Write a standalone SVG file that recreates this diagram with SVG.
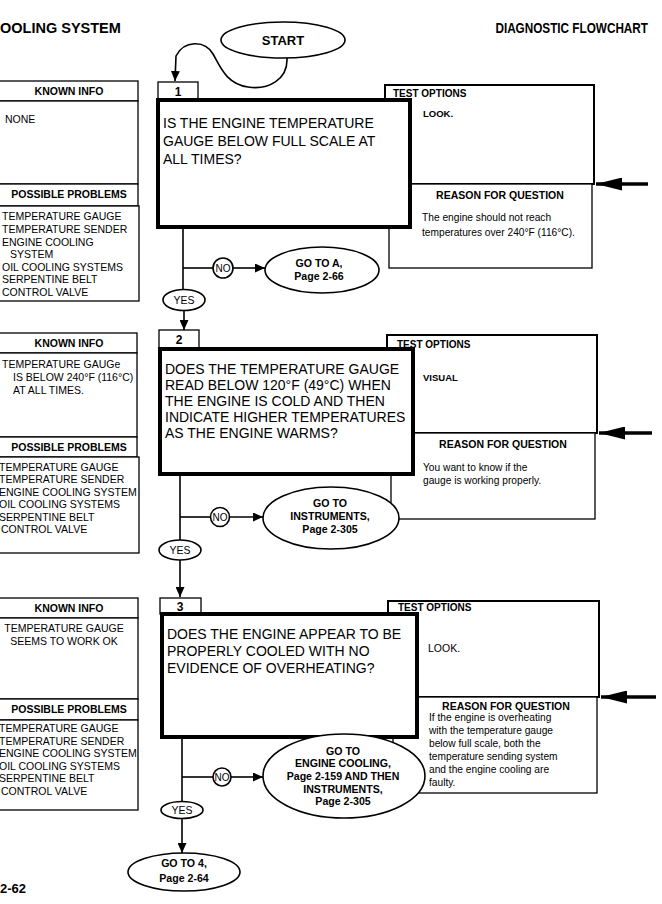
<svg xmlns="http://www.w3.org/2000/svg" width="662" height="904" viewBox="0 0 662 904">
<defs>
<style>
text{font-family:"Liberation Sans",Arial,Helvetica,sans-serif;fill:#000}
.b{font-weight:bold}
.h{font-weight:bold;font-size:10.5px;text-anchor:middle}
.li{font-size:10.5px}
.q{font-size:14px}
.to{font-weight:bold;font-size:10px}
.r{font-size:10.2px}
.e{font-weight:bold;font-size:10.6px;text-anchor:middle}
.c{text-anchor:middle}
.box{fill:#fff;stroke:#000;stroke-width:1.3}
.tbox{fill:#fff;stroke:#000;stroke-width:2}
.qbox{fill:#fff;stroke:#000;stroke-width:4}
.ln{fill:none;stroke:#000;stroke-width:1.6}
.ell{fill:#fff;stroke:#000;stroke-width:1.6}
.big{fill:none;stroke:#000;stroke-width:3.5}
</style>
<marker id="ah" markerUnits="userSpaceOnUse" markerWidth="10" markerHeight="9" refX="10" refY="4.5" orient="auto"><path d="M0,0 L10,4.5 L0,9 z" fill="#000"/></marker>
<marker id="bh" markerUnits="userSpaceOnUse" markerWidth="26" markerHeight="13" refX="26" refY="6.5" orient="auto"><path d="M0,0 L26,6.5 L0,13 z" fill="#000"/></marker>
</defs>
<rect width="662" height="904" fill="#fff"/>

<g id="titles">
<text class="b" x="0" y="33" font-size="14.5">OOLING SYSTEM</text>
<text class="b" transform="translate(648,33) scale(0.84,1)" text-anchor="end" font-size="14">DIAGNOSTIC FLOWCHART</text>
<text class="b" x="0" y="893" font-size="13">2-62</text>
</g>

<g id="start">
<ellipse class="ell" cx="283" cy="40" rx="62" ry="18"/>
<text class="b c" x="283" y="45" font-size="13">START</text>
</g>

<!-- Section 1 -->
<g id="info1">
<rect class="box" x="-5" y="81" width="143" height="20"/>
<rect class="box" x="-5" y="101" width="143" height="83"/>
<rect class="box" x="-5" y="184" width="143" height="22"/>
<rect class="box" x="-5" y="206" width="144" height="95"/>
<text class="h" x="69" y="95">KNOWN INFO</text>
<text class="li" x="5" y="123">NONE</text>
<text class="h" x="69" y="198">POSSIBLE PROBLEMS</text>
<text class="li" x="2" y="220">TEMPERATURE GAUGE</text>
<text class="li" x="2" y="233">TEMPERATURE SENDER</text>
<text class="li" x="2" y="246">ENGINE COOLING</text>
<text class="li" x="10" y="258">SYSTEM</text>
<text class="li" x="2" y="271">OIL COOLING SYSTEMS</text>
<text class="li" x="2" y="283">SERPENTINE BELT</text>
<text class="li" x="2" y="296">CONTROL VALVE</text>
</g>
<g id="test1">
<rect class="tbox" x="385" y="85" width="209" height="99"/>
<text class="to" x="393" y="97">TEST OPTIONS</text>
<text class="b" x="423" y="117" font-size="9.5">LOOK.</text>
</g>
<g id="reason1">
<rect class="box" x="389" y="184" width="203" height="84"/>
<text class="h" x="500" y="199">REASON FOR QUESTION</text>
<text class="r" x="422" y="221">The engine should not reach</text>
<text class="r" x="422" y="236">temperatures over 240°F (116°C).</text>
</g>
<g id="step1">
<rect class="box" x="158" y="82" width="40" height="18"/>
<text class="b c" x="178" y="96" font-size="12">1</text>
<rect class="qbox" x="158" y="100" width="252" height="127"/>
<text class="q" x="163" y="128">IS THE ENGINE TEMPERATURE</text>
<text class="q" x="163" y="146">GAUGE BELOW FULL SCALE AT</text>
<text class="q" x="163" y="164">ALL TIMES?</text>
</g>

<!-- Section 2 -->
<g id="info2">
<rect class="box" x="-5" y="333" width="142" height="20"/>
<rect class="box" x="-5" y="353" width="142" height="84"/>
<rect class="box" x="-5" y="437" width="142" height="20"/>
<rect class="box" x="-5" y="457" width="144" height="96"/>
<text class="h" x="69" y="347">KNOWN INFO</text>
<text class="li" x="2" y="368">TEMPERATURE GAUGe</text>
<text class="li" x="13" y="381">IS BELOW 240°F (116°C)</text>
<text class="li" x="13" y="394">AT ALL TIMES.</text>
<text class="h" x="69" y="451">POSSIBLE PROBLEMS</text>
<text class="li" x="-1" y="471">TEMPERATURE GAUGE</text>
<text class="li" x="-1" y="483">TEMPERATURE SENDER</text>
<text class="li" x="-1" y="496">ENGINE COOLING SYSTEM</text>
<text class="li" x="-1" y="508">OIL COOLING SYSTEMS</text>
<text class="li" x="-1" y="521">SERPENTINE BELT</text>
<text class="li" x="1" y="533">CONTROL VALVE</text>
</g>
<g id="test2">
<rect class="tbox" x="387" y="335" width="210" height="98"/>
<text class="to" x="397" y="348">TEST OPTIONS</text>
<text class="b" x="423" y="381" font-size="9.5">VISUAL</text>
</g>
<g id="reason2">
<rect class="box" x="391" y="433" width="204" height="86"/>
<text class="h" x="503" y="448">REASON FOR QUESTION</text>
<text class="r" x="423" y="471">You want to know if the</text>
<text class="r" x="423" y="484">gauge is working properly.</text>
</g>
<g id="step2">
<rect class="box" x="159" y="330" width="40" height="18"/>
<text class="b c" x="179" y="344" font-size="12">2</text>
<rect class="qbox" x="160" y="349" width="253" height="125"/>
<text class="q" x="165" y="374">DOES THE TEMPERATURE GAUGE</text>
<text class="q" x="165" y="390">READ BELOW 120°F (49°C) WHEN</text>
<text class="q" x="165" y="406">THE ENGINE IS COLD AND THEN</text>
<text class="q" x="165" y="422">INDICATE HIGHER TEMPERATURES</text>
<text class="q" x="165" y="438">AS THE ENGINE WARMS?</text>
</g>

<!-- Section 3 -->
<g id="info3">
<rect class="box" x="-5" y="598" width="143" height="20"/>
<rect class="box" x="-5" y="618" width="143" height="81"/>
<rect class="box" x="-5" y="699" width="143" height="21"/>
<rect class="box" x="-5" y="720" width="143" height="90"/>
<text class="h" x="69" y="612">KNOWN INFO</text>
<text class="li c" x="64" y="632">TEMPERATURE GAUGE</text>
<text class="li c" x="64" y="645">SEEMS TO WORK OK</text>
<text class="h" x="69" y="713">POSSIBLE PROBLEMS</text>
<text class="li" x="-1" y="732">TEMPERATURE GAUGE</text>
<text class="li" x="-1" y="745">TEMPERATURE SENDER</text>
<text class="li" x="-1" y="757">ENGINE COOLING SYSTEM</text>
<text class="li" x="-1" y="770">OIL COOLING SYSTEMS</text>
<text class="li" x="-1" y="782">SERPENTINE BELT</text>
<text class="li" x="1" y="795">CONTROL VALVE</text>
</g>
<g id="test3">
<rect class="tbox" x="388" y="601" width="211" height="96"/>
<text class="to" x="398" y="611">TEST OPTIONS</text>
<text x="428" y="652" font-size="10.5">LOOK.</text>
</g>
<g id="reason3">
<rect class="box" x="393" y="697" width="204" height="96"/>
<text class="h" x="506" y="710">REASON FOR QUESTION</text>
<text class="r" x="429" y="721">If the engine is overheating</text>
<text class="r" x="429" y="734">with the temperature gauge</text>
<text class="r" x="429" y="747">below full scale,  both the</text>
<text class="r" x="429" y="760">temperature sending system</text>
<text class="r" x="429" y="773">and the engine cooling are</text>
<text class="r" x="429" y="786">faulty.</text>
</g>
<g id="step3">
<rect class="box" x="160" y="598" width="41" height="16"/>
<text class="b c" x="180" y="611" font-size="12">3</text>
<rect class="qbox" x="162" y="614" width="255" height="123"/>
<text class="q" x="167" y="639">DOES THE ENGINE APPEAR TO BE</text>
<text class="q" x="167" y="656">PROPERLY COOLED WITH NO</text>
<text class="q" x="167" y="673">EVIDENCE OF OVERHEATING?</text>
</g>

<g id="connectors">
<path class="ln" d="M287,58 C288,80 268,90 248,87 C226,84 220,66 213,54 C205,40 184,40 176,56 L175,81" marker-end="url(#ah)"/>
<line class="big" x1="648" y1="184" x2="596" y2="184" marker-end="url(#bh)"/>
<line class="big" x1="652" y1="433" x2="599" y2="433" marker-end="url(#bh)"/>
<line class="big" x1="656" y1="697" x2="601" y2="697" marker-end="url(#bh)"/>
<line class="ln" x1="183" y1="229" x2="183" y2="292"/>
<line class="ln" x1="183" y1="268" x2="213" y2="268"/>
<line class="ln" x1="233" y1="268" x2="265" y2="268" marker-end="url(#ah)"/>
<line class="ln" x1="184" y1="310" x2="184" y2="330" marker-end="url(#ah)"/>
<line class="ln" x1="180" y1="476" x2="180" y2="542"/>
<line class="ln" x1="180" y1="517" x2="211" y2="517"/>
<line class="ln" x1="230" y1="517" x2="263" y2="517" marker-end="url(#ah)"/>
<line class="ln" x1="180" y1="560" x2="180" y2="597" marker-end="url(#ah)"/>
<line class="ln" x1="182" y1="739" x2="182" y2="803"/>
<line class="ln" x1="182" y1="777" x2="213" y2="777"/>
<line class="ln" x1="231" y1="777" x2="263" y2="777" marker-end="url(#ah)"/>
<line class="ln" x1="182" y1="818" x2="182" y2="853" marker-end="url(#ah)"/>
</g>

<g id="no1">
<circle class="ell" cx="223" cy="268" r="10"/>
<text class="c" x="223" y="272" font-size="10">NO</text>
</g>
<g id="goA">
<ellipse class="ell" cx="322" cy="270" rx="57" ry="23"/>
<text class="e" x="319" y="267">GO TO A,</text>
<text class="e" x="319" y="280">Page 2-66</text>
</g>
<g id="yes1">
<ellipse class="ell" cx="184" cy="300" rx="21" ry="10.5"/>
<text class="c" x="184" y="304" font-size="10.5">YES</text>
</g>

<g id="no2">
<circle class="ell" cx="220" cy="517" r="9.5"/>
<text class="c" x="220" y="521" font-size="10">NO</text>
</g>
<g id="goInstr">
<ellipse class="ell" cx="331" cy="518" rx="68" ry="31"/>
<text class="e" x="330" y="507">GO TO</text>
<text class="e" x="330" y="520">INSTRUMENTS,</text>
<text class="e" x="330" y="533">Page 2-305</text>
</g>
<g id="yes2">
<ellipse class="ell" cx="180" cy="550" rx="21" ry="10"/>
<text class="c" x="180" y="554" font-size="10.5">YES</text>
</g>

<g id="no3">
<circle class="ell" cx="222" cy="777" r="9"/>
<text class="c" x="222" y="781" font-size="10">NO</text>
</g>
<g id="goCooling">
<ellipse class="ell" cx="344" cy="776" rx="81" ry="42"/>
<text class="e" x="343" y="755">GO TO</text>
<text class="e" x="343" y="767">ENGINE COOLING,</text>
<text class="e" x="343" y="780">Page 2-159 AND THEN</text>
<text class="e" x="343" y="793">INSTRUMENTS,</text>
<text class="e" x="343" y="805">Page 2-305</text>
</g>
<g id="yes3">
<ellipse class="ell" cx="182" cy="810" rx="21" ry="8.5"/>
<text class="c" x="182" y="814" font-size="10.5">YES</text>
</g>
<g id="go4">
<ellipse class="ell" cx="184" cy="872" rx="56" ry="19"/>
<text class="e" x="184" y="867">GO TO 4,</text>
<text class="e" x="184" y="882">Page 2-64</text>
</g>
</svg>
